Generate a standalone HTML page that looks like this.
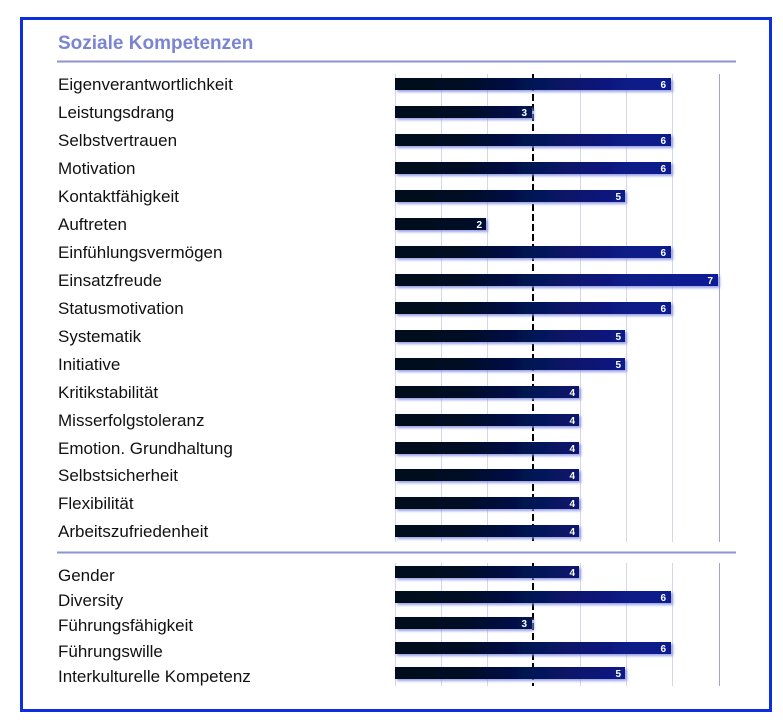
<!DOCTYPE html>
<html><head><meta charset="utf-8"><style>
body{margin:0;background:#fff;width:783px;height:725px;overflow:hidden;font-family:"Liberation Sans",sans-serif}
</style></head><body>
<svg width="783" height="725" xmlns="http://www.w3.org/2000/svg" style="position:absolute;left:0;top:0">
<defs>
<linearGradient id="g" x1="395" x2="720" gradientUnits="userSpaceOnUse" y1="0" y2="0">
<stop offset="0" stop-color="#020a1c"/>
<stop offset="0.2" stop-color="#030b22"/>
<stop offset="0.45" stop-color="#06145a"/>
<stop offset="0.7" stop-color="#0a1a85"/>
<stop offset="1" stop-color="#0c1e96"/>
</linearGradient>
<filter id="s" x="-5%" y="-50%" width="110%" height="200%"><feDropShadow dx="2" dy="2" stdDeviation="1.2" flood-color="#8088e0" flood-opacity="0.8"/></filter>
</defs>
<rect x="21.5" y="18.5" width="749" height="692" fill="none" stroke="#0a2ee0" stroke-width="3"/>
<text x="58" y="49" font-size="19" font-weight="bold" fill="#7b84d2">Soziale Kompetenzen</text>
<line x1="57" y1="61.5" x2="736" y2="61.5" stroke="#8c95d0" stroke-width="2"/>
<line x1="57" y1="552.5" x2="736" y2="552.5" stroke="#8c95d0" stroke-width="2"/>
<g id="grid" stroke="#d4d6ee" stroke-width="1">
<line x1="395.5" y1="74" x2="395.5" y2="542"/><line x1="441.5" y1="74" x2="441.5" y2="542"/><line x1="487.5" y1="74" x2="487.5" y2="542"/><line x1="580.5" y1="74" x2="580.5" y2="542"/><line x1="626.5" y1="74" x2="626.5" y2="542"/><line x1="672.5" y1="74" x2="672.5" y2="542"/><line x1="719.5" y1="74" x2="719.5" y2="542" stroke="#a0a4c8"/>
<line x1="395.5" y1="563" x2="395.5" y2="686"/><line x1="441.5" y1="563" x2="441.5" y2="686"/><line x1="487.5" y1="563" x2="487.5" y2="686"/><line x1="580.5" y1="563" x2="580.5" y2="686"/><line x1="626.5" y1="563" x2="626.5" y2="686"/><line x1="672.5" y1="563" x2="672.5" y2="686"/><line x1="719.5" y1="563" x2="719.5" y2="686" stroke="#a0a4c8"/>
</g>
<line x1="533" y1="74" x2="533" y2="542" stroke="#000" stroke-width="2" stroke-dasharray="7,3"/>
<line x1="533" y1="563" x2="533" y2="686" stroke="#000" stroke-width="2" stroke-dasharray="7,3"/>
<g font-size="17" fill="#111">
<text x="58" y="90">Eigenverantwortlichkeit</text>
<text x="58" y="118">Leistungsdrang</text>
<text x="58" y="146">Selbstvertrauen</text>
<text x="58" y="174">Motivation</text>
<text x="58" y="202">Kontaktfähigkeit</text>
<text x="58" y="230">Auftreten</text>
<text x="58" y="258">Einfühlungsvermögen</text>
<text x="58" y="286">Einsatzfreude</text>
<text x="58" y="314">Statusmotivation</text>
<text x="58" y="342">Systematik</text>
<text x="58" y="370">Initiative</text>
<text x="58" y="398">Kritikstabilität</text>
<text x="58" y="426">Misserfolgstoleranz</text>
<text x="58" y="454">Emotion. Grundhaltung</text>
<text x="58" y="481">Selbstsicherheit</text>
<text x="58" y="509">Flexibilität</text>
<text x="58" y="537">Arbeitszufriedenheit</text>
<text x="58" y="581">Gender</text>
<text x="58" y="606">Diversity</text>
<text x="58" y="631">Führungsfähigkeit</text>
<text x="58" y="657">Führungswille</text>
<text x="58" y="682">Interkulturelle Kompetenz</text>
</g>
<g fill="url(#g)" filter="url(#s)">
<rect x="395" y="78" width="276" height="12"/>
<rect x="395" y="106" width="137" height="12"/>
<rect x="395" y="134" width="276" height="12"/>
<rect x="395" y="162" width="276" height="12"/>
<rect x="395" y="190" width="230" height="12"/>
<rect x="395" y="218" width="91" height="12"/>
<rect x="395" y="246" width="276" height="12"/>
<rect x="395" y="274" width="323" height="12"/>
<rect x="395" y="302" width="276" height="12"/>
<rect x="395" y="330" width="230" height="12"/>
<rect x="395" y="358" width="230" height="12"/>
<rect x="395" y="386" width="184" height="12"/>
<rect x="395" y="414" width="184" height="12"/>
<rect x="395" y="442" width="184" height="12"/>
<rect x="395" y="469" width="184" height="12"/>
<rect x="395" y="497" width="184" height="12"/>
<rect x="395" y="525" width="184" height="12"/>
<rect x="395" y="566" width="184" height="12"/>
<rect x="395" y="591" width="276" height="12"/>
<rect x="395" y="617" width="137" height="12"/>
<rect x="395" y="642" width="276" height="12"/>
<rect x="395" y="667" width="230" height="12"/>
</g>
<g font-size="10" font-weight="bold" fill="#fff" text-anchor="end">
<text x="666" y="88">6</text><text x="527" y="116">3</text><text x="666" y="144">6</text><text x="666" y="172">6</text>
<text x="621" y="200">5</text><text x="482" y="228">2</text><text x="666" y="256">6</text><text x="713" y="284">7</text>
<text x="666" y="312">6</text><text x="621" y="340">5</text><text x="621" y="368">5</text><text x="575" y="396">4</text>
<text x="575" y="424">4</text><text x="575" y="452">4</text><text x="575" y="479">4</text><text x="575" y="507">4</text>
<text x="575" y="535">4</text><text x="575" y="576">4</text><text x="666" y="601">6</text><text x="527" y="627">3</text>
<text x="666" y="652">6</text><text x="621" y="677">5</text>
</g>
</svg>
</body></html>
